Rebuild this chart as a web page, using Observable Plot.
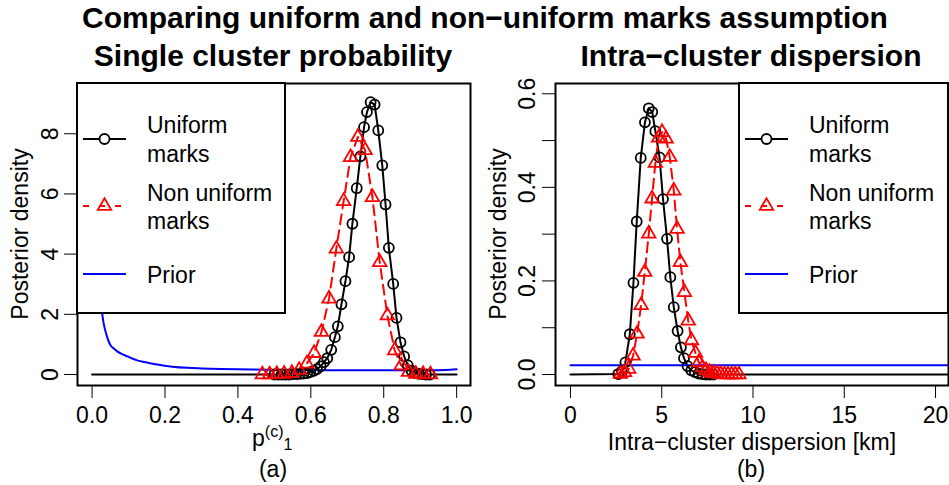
<!DOCTYPE html>
<html><head><meta charset="utf-8">
<script src="https://cdn.jsdelivr.net/npm/d3@7"></script>
<script src="https://cdn.jsdelivr.net/npm/@observablehq/plot@0.6"></script>
<style>
body{margin:0;background:#fff;}
#wrap{position:relative;width:949px;height:485px;overflow:hidden;background:#fff;}
.panel{position:absolute;top:75px;}
#overlay{position:absolute;left:0;top:0;}
</style></head><body><div id="wrap"></div>
<script>
// ---------- Panel (a): Single cluster probability ----------
const aUniformP = [0.500,0.510,0.520,0.530,0.540,0.550,0.560,0.570,0.580,0.590,0.598,0.608,0.617,0.627,0.636,0.645,0.656,0.666,0.674,0.684,0.695,0.705,0.714,0.726,0.736,0.746,0.754,0.764,0.775,0.785,0.796,0.805,0.814,0.826,0.835,0.846,0.856,0.866,0.876,0.886,0.896,0.906,0.916,0.926];
const aUniformDensity = [0,0,0,0,0,0.01,0.01,0.02,0.03,0.05,0.08,0.12,0.18,0.27,0.41,0.54,0.82,1.24,1.60,2.33,3.10,3.90,5.01,6.19,7.25,8.22,8.72,9.05,8.97,8.11,6.95,5.65,4.21,3.01,1.88,1.07,0.60,0.30,0.13,0.05,0.02,0.01,0,0];
const aNonUniformP = [0.467,0.487,0.507,0.527,0.548,0.568,0.589,0.609,0.629,0.650,0.670,0.690,0.709,0.729,0.749,0.769,0.789,0.810,0.830,0.848,0.868,0.888,0.908,0.928];
const aNonUniformDensity = [0,0,0.01,0.02,0.05,0.15,0.36,0.71,1.41,2.52,4.18,5.76,7.22,7.89,7.45,5.89,3.73,1.96,0.80,0.30,0.08,0.02,0.01,0];
const aPriorP = [0.020,0.028,0.032,0.040,0.051,0.060,0.069,0.080,0.097,0.124,0.150,0.179,0.220,0.261,0.300,0.353,0.400,0.470,0.550,0.650,0.750,0.850,0.920,0.970,1.000];
const aPriorDensity = [3.0,2.0,1.68,1.30,0.96,0.86,0.77,0.69,0.60,0.47,0.40,0.33,0.26,0.22,0.20,0.18,0.17,0.16,0.15,0.14,0.14,0.14,0.14,0.15,0.17];
const aZeroRange = [0, 1];
const aXTicks = [0, 0.2, 0.4, 0.6, 0.8, 1.0];
const aYTicks = [0, 2, 4, 6, 8];
const aYTickLabels = [0, 2, 4, 6, 8];

// ---------- Panel (b): Intra-cluster dispersion ----------
const bUniformX = [2.62,2.82,3.01,3.25,3.45,3.63,3.85,4.08,4.29,4.48,4.65,4.88,5.07,5.29,5.47,5.66,5.87,6.05,6.22,6.41,6.62,6.82,7.02,7.22,7.42,7.62,7.82];
const bUniformDensity = [0.001,0.007,0.026,0.086,0.196,0.327,0.463,0.539,0.569,0.561,0.520,0.464,0.375,0.290,0.208,0.144,0.093,0.058,0.035,0.018,0.009,0.005,0.002,0.001,0,0,0];
const bNonUniformX = [2.74,2.96,3.19,3.43,3.65,3.87,4.07,4.29,4.47,4.65,4.83,5.02,5.24,5.44,5.66,5.84,6.02,6.24,6.45,6.63,6.85,7.03,7.23,7.43,7.63,7.83,8.03,8.23,8.43,8.63,8.83,9.03,9.23];
const bNonUniformDensity = [0.001,0.005,0.012,0.040,0.087,0.148,0.219,0.301,0.376,0.452,0.506,0.518,0.504,0.465,0.393,0.311,0.240,0.176,0.115,0.073,0.046,0.026,0.015,0.009,0.005,0.003,0.002,0.001,0,0,0,0,0];
const bPriorX = [0, 22];
const bPriorDensity = [0.02, 0.02];
const bZeroRange = [0, 22];
const bXTicks = [0, 5, 10, 15, 20];
const bYTicks = [0, 0.1, 0.2, 0.3, 0.4, 0.5, 0.6];
const bYTickLabels = [0, 0.2, 0.4, 0.6];

// ---------- Text ----------
const mainTitle = "Comparing uniform and non\u2212uniform marks assumption";
const panelTitles = ["Single cluster probability", "Intra\u2212cluster dispersion"];
const yLabel = "Posterior density";
const bXLabel = "Intra\u2212cluster dispersion [km]";
const panelTags = ["(a)", "(b)"];
const legendLabels = [["Uniform", "marks"], ["Non uniform", "marks"], ["Prior"]];

const FONT = '"Liberation Sans", Arial, Helvetica, sans-serif';
const RED = "#ff0000", BLUE = "#0000ff";

function pts(xs, ys) { return xs.map((x, i) => ({x, y: ys[i]})); }

function makePanel(cfg) {
  const u = pts(cfg.uX, cfg.uY);
  const n = pts(cfg.nX, cfg.nY);
  const p = pts(cfg.pX, cfg.pY);
  const uLine = [{x: cfg.zero[0], y: 0}, ...u, {x: cfg.zero[1], y: 0}];
  return Plot.plot({
    width: cfg.width, height: 410,
    marginLeft: cfg.marginLeft, marginRight: cfg.marginRight, marginTop: 8, marginBottom: 100,
    style: {fontFamily: FONT, fontSize: "23px", color: "black", background: "transparent"},
    x: {domain: cfg.xDomain, ticks: cfg.xTicks, tickFormat: cfg.xFmt, tickSize: 13, tickPadding: 8, label: null},
    y: {domain: cfg.yDomain, ticks: cfg.yTicks, tickFormat: () => "", tickSize: 13, label: null},
    marks: [
      Plot.line(uLine, {x: "x", y: "y", stroke: "black", strokeWidth: 2, clip: true}),
      Plot.line(n, {x: "x", y: "y", stroke: RED, strokeWidth: 2, strokeDasharray: "10,6", clip: true}),
      Plot.line(p, {x: "x", y: "y", stroke: BLUE, strokeWidth: 2, curve: "monotone-x", clip: true}),
      Plot.dot(u, {x: "x", y: "y", r: 5, stroke: "black", strokeWidth: 1.8, fill: "none"}),
      Plot.dot(n, {x: "x", y: "y", r: 5, symbol: "triangle", stroke: RED, strokeWidth: 1.8, fill: "none"}),
      Plot.text(cfg.yLabels, {y: d => d, text: cfg.yFmt, frameAnchor: "left", dx: cfg.yLabelDx, rotate: -90, textAnchor: "middle", fontSize: 23, fill: "black"}),
      Plot.frame({stroke: "black", strokeWidth: 2})
    ]
  });
}

const wrap = document.getElementById("wrap");

const plotA = makePanel({
  width: 475, marginLeft: 77, marginRight: 5,
  xDomain: [-0.04, 1.038], yDomain: [-0.366, 9.67],
  xTicks: aXTicks, xFmt: d3.format(".1f"), yTicks: aYTicks, yLabels: aYTickLabels, yFmt: d => String(d), yLabelDx: -27,
  uX: aUniformP, uY: aUniformDensity, nX: aNonUniformP, nY: aNonUniformDensity, pX: aPriorP, pY: aPriorDensity, zero: aZeroRange
});
const plotB = makePanel({
  width: 474, marginLeft: 80, marginRight: 1,
  xDomain: [-0.82, 20.71], yDomain: [-0.0235, 0.622],
  xTicks: bXTicks, xFmt: d => String(d), yTicks: bYTicks, yLabels: bYTickLabels, yFmt: d3.format(".1f"), yLabelDx: -28,
  uX: bUniformX, uY: bUniformDensity, nX: bNonUniformX, nY: bNonUniformDensity, pX: bPriorX, pY: bPriorDensity, zero: bZeroRange
});
const dA = document.createElement("div"); dA.className = "panel"; dA.style.left = "0px"; dA.appendChild(plotA); wrap.appendChild(dA);
const dB = document.createElement("div"); dB.className = "panel"; dB.style.left = "475px"; dB.appendChild(plotB); wrap.appendChild(dB);

// ---------- Overlay: titles, axis titles, legends ----------
const svg = d3.select(wrap).append("svg").attr("id", "overlay").attr("width", 949).attr("height", 485)
  .style("font-family", FONT).style("pointer-events", "none");

svg.append("text").attr("x", 485).attr("y", 28).attr("text-anchor", "middle")
  .attr("font-size", 30).attr("font-weight", "bold").text(mainTitle);
[[273, 0], [751, 1]].forEach(([cx, i]) => {
  svg.append("text").attr("x", cx).attr("y", 66).attr("text-anchor", "middle")
    .attr("font-size", 30).attr("font-weight", "bold").text(panelTitles[i]);
  svg.append("text").attr("x", cx).attr("y", 477).attr("text-anchor", "middle")
    .attr("font-size", 23).text(panelTags[i]);
});
[[28], [506]].forEach(([bx]) => {
  svg.append("text").attr("transform", `translate(${bx},234) rotate(-90)`).attr("text-anchor", "middle")
    .attr("font-size", 23).text(yLabel);
});
// p^(c)_1
const pl = svg.append("text").attr("x", 252).attr("y", 446).attr("font-size", 23);
pl.append("tspan").text("p");
pl.append("tspan").attr("font-size", 16).attr("dy", -9).text("(c)");
pl.append("tspan").attr("font-size", 16).attr("dy", 13).text("1");
svg.append("text").attr("x", 752).attr("y", 450).attr("text-anchor", "middle").attr("font-size", 23).text(bXLabel);

// legends
const triPath = d3.symbol(d3.symbolTriangle, Math.PI * 5 * 5)();
function legend(x0, w) {
  const g = svg.append("g").attr("transform", `translate(${x0},83)`);
  g.append("rect").attr("x", 0).attr("y", 0).attr("width", w).attr("height", 230)
    .attr("fill", "white").attr("stroke", "black").attr("stroke-width", 2);
  const sx0 = 6, sx1 = 49, sc = 27.5, tx = 70;
  // uniform
  g.append("line").attr("x1", sx0).attr("x2", sx1).attr("y1", 56).attr("y2", 56).attr("stroke", "black").attr("stroke-width", 2);
  g.append("circle").attr("cx", sc).attr("cy", 56).attr("r", 5).attr("fill", "white").attr("stroke", "black").attr("stroke-width", 1.8);
  // non uniform
  g.append("line").attr("x1", sx0).attr("x2", sx1).attr("y1", 123).attr("y2", 123).attr("stroke", RED).attr("stroke-width", 2).attr("stroke-dasharray", "6,10");
  g.append("path").attr("d", triPath).attr("transform", `translate(${sc},123)`).attr("fill", "none").attr("stroke", RED).attr("stroke-width", 1.8);
  // prior
  g.append("line").attr("x1", sx0).attr("x2", sx1).attr("y1", 191).attr("y2", 191).attr("stroke", BLUE).attr("stroke-width", 2);
  const rows = [[50, legendLabels[0][0]], [79, legendLabels[0][1]], [118, legendLabels[1][0]], [146, legendLabels[1][1]], [200, legendLabels[2][0]]];
  rows.forEach(([y, t]) => g.append("text").attr("x", tx).attr("y", y).attr("font-size", 23).text(t));
}
legend(77, 208);
legend(739, 209);
</script></body></html>
